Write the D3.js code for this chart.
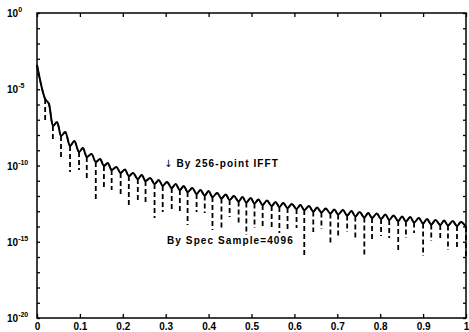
<!DOCTYPE html>
<html>
<head>
<meta charset="utf-8">
<script src="https://cdn.jsdelivr.net/npm/d3@7"></script>
<style>
  body { margin: 0; background: #fff; }
  text { font-family: "Liberation Sans", Arial, sans-serif; fill: #000; }
</style>
</head>
<body>
<div id="chart"></div>
<script>
let width = 469,
    height = 332,
    margin = ({ top: 13, right: 3, bottom: 14, left: 37 });

// x positions (normalized frequency) of the ripple nulls
const nullX = [0.019, 0.037, 0.056, 0.077, 0.098, 0.116, 0.137, 0.156, 0.174, 0.195,
  0.214, 0.235, 0.253, 0.274, 0.293, 0.314, 0.333, 0.351, 0.372, 0.391,
  0.409, 0.430, 0.449, 0.470, 0.488, 0.507, 0.526, 0.547, 0.565, 0.584,
  0.605, 0.623, 0.644, 0.663, 0.684, 0.702, 0.723, 0.742, 0.763, 0.781,
  0.802, 0.821, 0.842, 0.860, 0.879, 0.900, 0.919, 0.940, 0.958, 0.979, 1.0];

// exponent (log10) of the 256-point IFFT curve at the nulls
const ifftDip = [-5.64, -7.41, -8.07, -8.72, -9.11, -9.44, -9.77, -10.03, -10.30, -10.49,
  -10.69, -10.89, -11.02, -11.21, -11.34, -11.48, -11.61, -11.74, -11.87, -11.97,
  -12.07, -12.16, -12.26, -12.36, -12.43, -12.49, -12.59, -12.66, -12.72, -12.79,
  -12.85, -12.92, -13.02, -13.08, -13.15, -13.21, -13.28, -13.34, -13.41, -13.44,
  -13.51, -13.57, -13.64, -13.67, -13.74, -13.80, -13.87, -13.90, -13.93, -13.97, -14.03];

// exponent of the spectrum-sample (4096) curve at the nulls
const specNull = [-7.02, -8.33, -9.64, -10.43, -10.30, -10.82, -12.26, -11.61, -11.61, -12.07,
  -12.59, -12.26, -12.46, -13.44, -13.05, -12.92, -13.11, -13.90, -13.05, -13.11,
  -14.23, -14.10, -13.38, -13.84, -14.56, -14.10, -13.97, -14.23, -14.43, -14.36,
  -14.10, -15.87, -14.36, -14.16, -15.08, -14.75, -14.36, -14.75, -16.00, -15.02,
  -14.62, -14.75, -15.61, -14.75, -14.43, -15.93, -14.95, -14.89, -15.54, -15.54, -16.00];

// ripple peaks (shared by both curves)
const peakX = [0.028, 0.047, 0.066, 0.087, 0.107, 0.127, 0.147, 0.165, 0.185, 0.205,
  0.224, 0.244, 0.264, 0.284, 0.303, 0.323, 0.342, 0.362, 0.381, 0.400,
  0.420, 0.440, 0.459, 0.479, 0.498, 0.516, 0.536, 0.556, 0.574, 0.594,
  0.614, 0.634, 0.653, 0.673, 0.693, 0.713, 0.733, 0.752, 0.772, 0.792,
  0.812, 0.831, 0.851, 0.870, 0.890, 0.909, 0.929, 0.949, 0.969, 0.988];
const peakY = [-5.97, -7.15, -7.80, -8.39, -8.85, -9.25, -9.57, -9.84, -10.10, -10.26,
  -10.49, -10.62, -10.82, -10.95, -11.08, -11.21, -11.34, -11.48, -11.61, -11.67,
  -11.80, -11.90, -12.00, -12.07, -12.13, -12.23, -12.30, -12.39, -12.46, -12.52,
  -12.59, -12.66, -12.75, -12.82, -12.89, -12.92, -12.98, -13.05, -13.11, -13.15,
  -13.21, -13.28, -13.34, -13.38, -13.44, -13.51, -13.57, -13.61, -13.64, -13.70];

const startY = -3.4; // value at x = 0

const xTicks = [0, 0.1, 0.2, 0.3, 0.4, 0.5, 0.6, 0.7, 0.8, 0.9, 1];
const xTickLabels = ["0", "0.1", "0.2", "0.3", "0.4", "0.5", "0.6", "0.7", "0.8", "0.9", "1"];
const yTickExp = [0, -1, -2, -3, -4, -5, -6, -7, -8, -9, -10, -11, -12, -13, -14, -15, -16, -17, -18, -19, -20];
const yLabelExp = [0, -5, -10, -15, -20];

const svg = d3.select("#chart")
  .append("svg")
  .attr("width", width)
  .attr("height", height)
  .attr("viewBox", [0, 0, width, height]);

let x = d3.scaleLinear()
  .domain([0, 1])
  .range([margin.left, width - margin.right]);

let y = d3.scaleLog()
  .domain([1e-20, 1])
  .range([height - margin.bottom, margin.top]);

const pow = e => Math.pow(10, e);

// build curve points: start, then null/peak alternating
let pts = [{ x: 0, v: startY }];
for (let i = 0; i < nullX.length; i++) {
  pts.push({ x: nullX[i], v: ifftDip[i] });
  if (i < peakX.length) pts.push({ x: peakX[i], v: peakY[i] });
}

let line = d3.line()
  .x(d => x(d.x))
  .y(d => y(pow(d.v)))
  .curve(d3.curveMonotoneX);

// dashed curve (spec sample) - mostly under the solid one
svg.append("path")
  .datum(pts)
  .attr("fill", "none")
  .attr("stroke", "#000")
  .attr("stroke-width", 1.5)
  .attr("stroke-dasharray", "5,3")
  .attr("d", line);

svg.append("g")
  .selectAll("line")
  .data(nullX)
  .join("line")
  .attr("x1", d => x(d))
  .attr("x2", d => x(d))
  .attr("y1", (d, i) => y(pow(ifftDip[i])))
  .attr("y2", (d, i) => y(pow(specNull[i])))
  .attr("stroke", "#000")
  .attr("stroke-width", 1.8)
  .attr("stroke-dasharray", "5,3");

// solid curve (256-point IFFT)
svg.append("path")
  .datum(pts)
  .attr("fill", "none")
  .attr("stroke", "#000")
  .attr("stroke-width", 2)
  .attr("stroke-linejoin", "round")
  .attr("d", line);

// axes, ticks pointing inward
svg.append("g")
  .attr("transform", `translate(0,${height - margin.bottom})`)
  .call(d3.axisBottom(x).tickValues(xTicks).tickFormat((d, i) => xTickLabels[i])
    .tickSizeInner(-4).tickSizeOuter(0).tickPadding(5))
  .call(g => g.select(".domain").remove())
  .call(g => g.selectAll("text").attr("font-size", 10).attr("font-weight", "bold")
    .attr("font-family", "Liberation Sans, Arial, sans-serif"));

svg.append("g")
  .attr("transform", `translate(0,${margin.top})`)
  .call(d3.axisTop(x).tickValues(xTicks).tickFormat("").tickSizeInner(-4).tickSizeOuter(0))
  .call(g => g.select(".domain").remove());

svg.append("g")
  .attr("transform", `translate(${margin.left},0)`)
  .call(d3.axisLeft(y).tickValues(yTickExp.map(pow)).tickFormat("").tickSizeInner(-3).tickSizeOuter(0))
  .call(g => g.select(".domain").remove());

svg.append("g")
  .attr("transform", `translate(${width - margin.right},0)`)
  .call(d3.axisRight(y).tickValues(yTickExp.map(pow)).tickFormat("").tickSizeInner(-3).tickSizeOuter(0))
  .call(g => g.select(".domain").remove());

svg.selectAll(".tick line").attr("stroke-width", 1.3);

// frame
svg.append("rect")
  .attr("x", margin.left)
  .attr("y", margin.top)
  .attr("width", width - margin.left - margin.right)
  .attr("height", height - margin.top - margin.bottom)
  .attr("fill", "none")
  .attr("stroke", "#000")
  .attr("stroke-width", 1.5);

// y labels 10^e
let yl = svg.append("g")
  .selectAll("text")
  .data(yLabelExp)
  .join("text")
  .attr("x", 7)
  .attr("y", d => y(pow(d)) + 4)
  .attr("font-size", 10)
  .attr("font-weight", "bold");
yl.append("tspan").text("10");
yl.append("tspan")
  .attr("dy", -5)
  .attr("font-size", 7)
  .text(d => d === 0 ? "0" : String(d));

// annotations
let ann = svg.append("text")
  .attr("x", 164)
  .attr("y", 167)
  .attr("font-size", 10)
  .attr("font-weight", "bold")
  .attr("letter-spacing", 1.1);
ann.append("tspan")
  .attr("font-family", "DejaVu Sans, sans-serif")
  .attr("font-weight", "normal")
  .attr("font-size", 10)
  .attr("letter-spacing", 0)
  .text("\u2193");
ann.append("tspan")
  .attr("dx", 4)
  .text("By 256-point IFFT");

svg.append("text")
  .attr("x", 167)
  .attr("y", 244)
  .attr("font-size", 10)
  .attr("font-weight", "bold")
  .attr("letter-spacing", 1.1)
  .text("By Spec Sample=4096");
</script>
</body>
</html>
